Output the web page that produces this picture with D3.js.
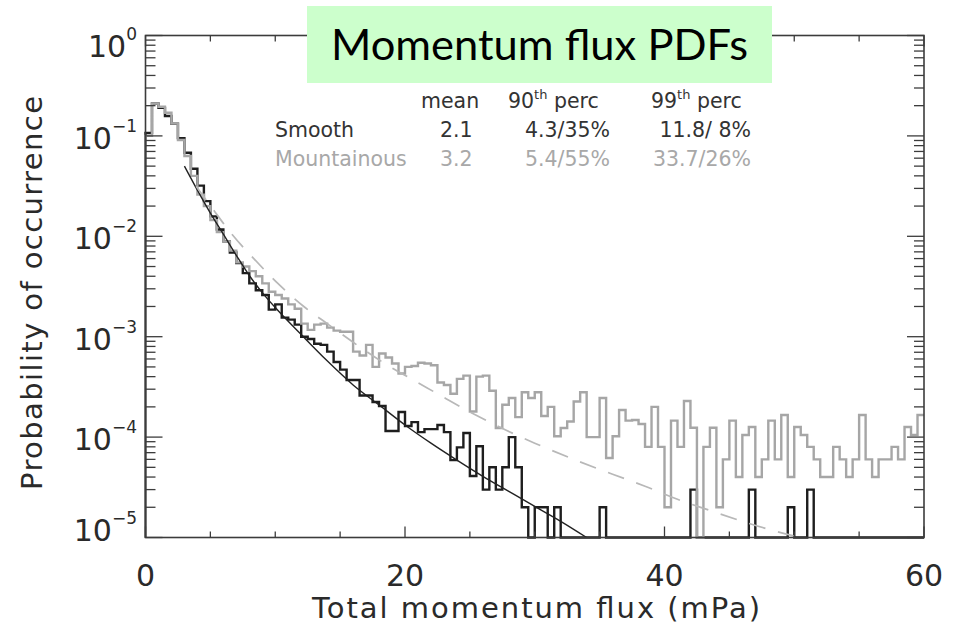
<!DOCTYPE html>
<html><head><meta charset="utf-8">
<script src="https://cdn.jsdelivr.net/npm/d3@7"></script>
<style>body{margin:0;background:#fff}svg{display:block}</style>
</head><body>
<svg id="chart" width="956" height="627"></svg>
<script>
// ---------- data ----------
const binWidth = 0.5;           // mPa
const floorP = 1e-5;            // bottom of the log axis
// Smooth-terrain PDF, bins of 0.5 mPa from 0 to 60
const smoothPDF = [
  0.107,0.21,0.19,0.158,0.132,0.095,0.068,0.047,0.032,0.0224,
  0.0158,0.0117,0.0089,0.0069,0.0054,0.0043,0.0034,0.0029,0.0026,0.00186,
  0.0021,0.00155,0.00148,0.00132,0.0010,0.00095,0.00085,0.00083,0.00071,0.00056,
  0.00047,0.00037,0.00037,0.00026,0.00026,0.000224,0.000204,0.000115,0.000115,0.000178,
  0.000129,0.000141,0.000112,0.00012,0.00012,0.000132,0.000112,0.000059,0.000079,0.00011,
  0.000041,0.000081,0.00003,0.00005,0.00003,0.00005,0.0001,0.00005,0.00002,0,
  0.00002,0.00002,0,0.00002,0,0,0,0,0,0,
  0.00002,0,0,0,0,0,0,0,0,0,
  0,0,0,0,0.00003,0,0,0,0,0,
  0,0,0,0.00003,0,0,0,0,0,0.00002,
  0,0,0.00003,0,0,0,0,0,0,0,
  0,0,0,0,0,0,0,0,0,0
];
// Mountainous-terrain PDF
const mountainPDF = [
  0.10,0.21,0.195,0.17,0.133,0.091,0.063,0.040,0.026,0.020,
  0.0145,0.011,0.0089,0.0072,0.0055,0.0050,0.0045,0.0040,0.0034,0.0028,
  0.0026,0.0024,0.0021,0.0019,0.00135,0.00117,0.00132,0.00135,0.00123,0.00115,
  0.00112,0.00112,0.00071,0.00065,0.00083,0.00050,0.00068,0.00062,0.00054,0.00043,
  0.00050,0.00051,0.00055,0.00054,0.00052,0.00035,0.00033,0.00027,0.00038,0.00041,
  0.00018,0.00040,0.00041,0.00029,0.000123,0.00021,0.000245,0.000158,0.00028,0.000245,
  0.00028,0.000162,0.0002,0.000102,0.000123,0.000143,0.000226,0.00028,0.0001,0.0001,
  0.000245,0.000062,0.000102,0.000186,0.000146,0.000148,0.000135,0.00008,0.0002,0.00008,
  0.00002,0.000146,0.00008,0.000229,0.000124,0,0.00008,0.000124,0.00002,0.00006,
  0.000146,0.00004,0.000105,0.000126,0.00004,0.00006,0.000146,0.00006,0.000166,0.00004,
  0.000126,0.000105,0.00008,0.00006,0.00004,0.00004,0.00008,0.00006,0.00004,0.00006,
  0.000166,0.00006,0.00004,0.00006,0.00006,0.00008,0.00006,0.000126,0.000105,0.000166
];
// fitted curves
const smoothFitX = [3,4,5,6,7,8,9,10,12,14,16,18,20,22,24,26,28,30,32,34];
const smoothFitP = [0.050,0.0288,0.0170,0.0105,0.00646,0.00407,0.00275,0.00195,0.00105,0.000575,
                    0.000331,0.000209,0.000132,0.000087,0.000059,0.0000407,0.0000288,0.0000204,0.0000145,0.00001];
const mountainFitX = [3.9,5.2,6.6,8.4,10.2,12.2,14,16.5,18.6,20.9,23.2,25.3,27.8,30,33,36,38.5,41,43.5,46,48.4,50.5];
const mountainFitP = [0.0316,0.0186,0.0107,0.00589,0.00339,0.0020,0.00135,0.000794,0.000525,0.000355,0.00024,
                      0.00017,0.000117,0.000087,0.00006,0.0000427,0.0000324,0.000024,0.0000186,0.0000145,0.0000117,0.00001];
// axes
const xMajorTicks = [0,20,40,60];
const xMinorTicks = [5,10,15,25,30,35,45,50,55];
const yDecades = [0,-1,-2,-3,-4,-5];
// table
const tableHeads = ["mean","90","99"];
const tableNames = ["Smooth","Mountainous"];
const tableMean = ["2.1","3.2"];
const tableP90 = ["4.3/35%","5.4/55%"];
const tableP99 = ["11.8/ 8%","33.7/26%"];
const titleText = "Momentum flux PDFs";

// ---------- drawing ----------
const svg = d3.select("#chart");
const L = 145.5, R = 924, T = 35.5, B = 537.5;
const x = d3.scaleLinear().domain([0,60]).range([L,R]);
const y = d3.scaleLog().domain([floorP,1]).range([B,T]);
const axisCol = "#3c3c3c";
const font = "'DejaVu Sans', sans-serif";

function stepPoints(arr){
  const pts = [{x:0,p:floorP}];
  arr.forEach((v,i)=>pts.push({x:i*binWidth,p:Math.max(v,floorP)}));
  pts.push({x:arr.length*binWidth,p:Math.max(arr[arr.length-1],floorP)});
  return pts;
}
const stepLine = d3.line().x(d=>x(d.x)).y(d=>y(d.p)).curve(d3.curveStepAfter);

// histograms
svg.append("path").attr("d",stepLine(stepPoints(smoothPDF)))
  .attr("fill","none").attr("stroke","#1e1e1e").attr("stroke-width",2.4);
svg.append("path").attr("d",stepLine(stepPoints(mountainPDF)))
  .attr("fill","none").attr("stroke","#a6a6a6").attr("stroke-width",2.4);

// fits
const fitLine = d3.line().x(d=>x(d[0])).y(d=>y(d[1])).curve(d3.curveMonotoneX);
svg.append("path").attr("d",fitLine(d3.zip(smoothFitX,smoothFitP)))
  .attr("fill","none").attr("stroke","#222").attr("stroke-width",1.4);
svg.append("path").attr("d",fitLine(d3.zip(mountainFitX,mountainFitP)))
  .attr("fill","none").attr("stroke","#b8b8b8").attr("stroke-width",1.7)
  .attr("stroke-dasharray","17,13");

// frame
const ax = svg.append("g");
ax.append("rect").attr("x",L).attr("y",T).attr("width",R-L).attr("height",B-T)
  .attr("fill","none").attr("stroke",axisCol).attr("stroke-width",1.6);

// x ticks (bottom and top, inward)
xMajorTicks.concat(xMinorTicks).forEach(v=>{
  const len = xMajorTicks.includes(v) ? 11 : 6;
  ax.append("line").attr("x1",x(v)).attr("x2",x(v)).attr("y1",B).attr("y2",B-len)
    .attr("stroke",axisCol).attr("stroke-width",1.3);
  ax.append("line").attr("x1",x(v)).attr("x2",x(v)).attr("y1",T).attr("y2",T+len)
    .attr("stroke",axisCol).attr("stroke-width",1.3);
});
// y ticks (left and right, inward)
yDecades.forEach(d=>{
  const yy = y(Math.pow(10,d));
  [[L,1],[R,-1]].forEach(([xx,s])=>{
    ax.append("line").attr("x1",xx).attr("x2",xx+s*17).attr("y1",yy).attr("y2",yy)
      .attr("stroke",axisCol).attr("stroke-width",1.3);
  });
  if (d>-5) for (let m=2;m<=9;m++){
    const ym = y(m*Math.pow(10,d-1));
    [[L,1],[R,-1]].forEach(([xx,s])=>{
      ax.append("line").attr("x1",xx).attr("x2",xx+s*10).attr("y1",ym).attr("y2",ym)
        .attr("stroke",axisCol).attr("stroke-width",1.3);
    });
  }
});

// tick labels
const labCol = "#2a2a2a";
yDecades.forEach(d=>{
  const off = d===0 ? 8 : (d===-5 ? -10 : 0);
  const base = y(Math.pow(10,d)) + 13 + off;
  const t = svg.append("text").attr("x",137).attr("y",base).attr("text-anchor","end")
    .attr("font-family",font).attr("fill",labCol);
  t.append("tspan").attr("font-size",30).text("10");
  t.append("tspan").attr("font-size",17).attr("dy",-17).text(d===0?"0":"\u2212"+(-d));
});
xMajorTicks.forEach(v=>{
  svg.append("text").attr("x",x(v)).attr("y",586).attr("text-anchor","middle")
    .attr("font-family",font).attr("font-size",30).attr("fill",labCol).text(v);
});
// axis titles
svg.append("text").attr("x",536).attr("y",618).attr("text-anchor","middle")
  .attr("font-family",font).attr("font-size",29).attr("fill",labCol)
  .attr("textLength",448).attr("lengthAdjust","spacing")
  .text("Total momentum flux (mPa)");
svg.append("text").attr("transform","translate(42,293) rotate(-90)").attr("text-anchor","middle")
  .attr("font-family",font).attr("font-size",29).attr("fill",labCol)
  .attr("textLength",394).attr("lengthAdjust","spacing")
  .text("Probability of occurrence");

// statistics table
const tf = 20.5;
const hdr = svg.append("g").attr("font-family",font).attr("font-size",tf).attr("fill","#333");
hdr.append("text").attr("x",421).attr("y",108).text(tableHeads[0]);
[[508,tableHeads[1]],[651,tableHeads[2]]].forEach(([xx,n])=>{
  const t = hdr.append("text").attr("x",xx).attr("y",108);
  t.append("tspan").text(n);
  t.append("tspan").attr("font-size",13).attr("dy",-9).text("th");
  t.append("tspan").attr("dy",9).text(" perc");
});
const rowCols = ["#333","#a8a8a8"];
const rowY = [137,166];
tableNames.forEach((n,i)=>{
  const g = svg.append("g").attr("font-family",font).attr("font-size",tf).attr("fill",rowCols[i]);
  g.append("text").attr("x",275).attr("y",rowY[i]).text(n);
  g.append("text").attr("x",440).attr("y",rowY[i]).text(tableMean[i]);
  g.append("text").attr("x",610).attr("y",rowY[i]).attr("text-anchor","end").text(tableP90[i]);
  g.append("text").attr("x",751).attr("y",rowY[i]).attr("text-anchor","end").text(tableP99[i]);
});

// title box
svg.append("rect").attr("x",307).attr("y",6).attr("width",465).attr("height",77).attr("fill","#ccffcc");
svg.append("text").attr("x",539.5).attr("y",60).attr("text-anchor","middle")
  .attr("font-family","Lato, 'Open Sans', sans-serif").attr("font-size",42).attr("fill","#000")
  .attr("textLength",417).attr("lengthAdjust","spacingAndGlyphs").text(titleText);
</script>
</body></html>
